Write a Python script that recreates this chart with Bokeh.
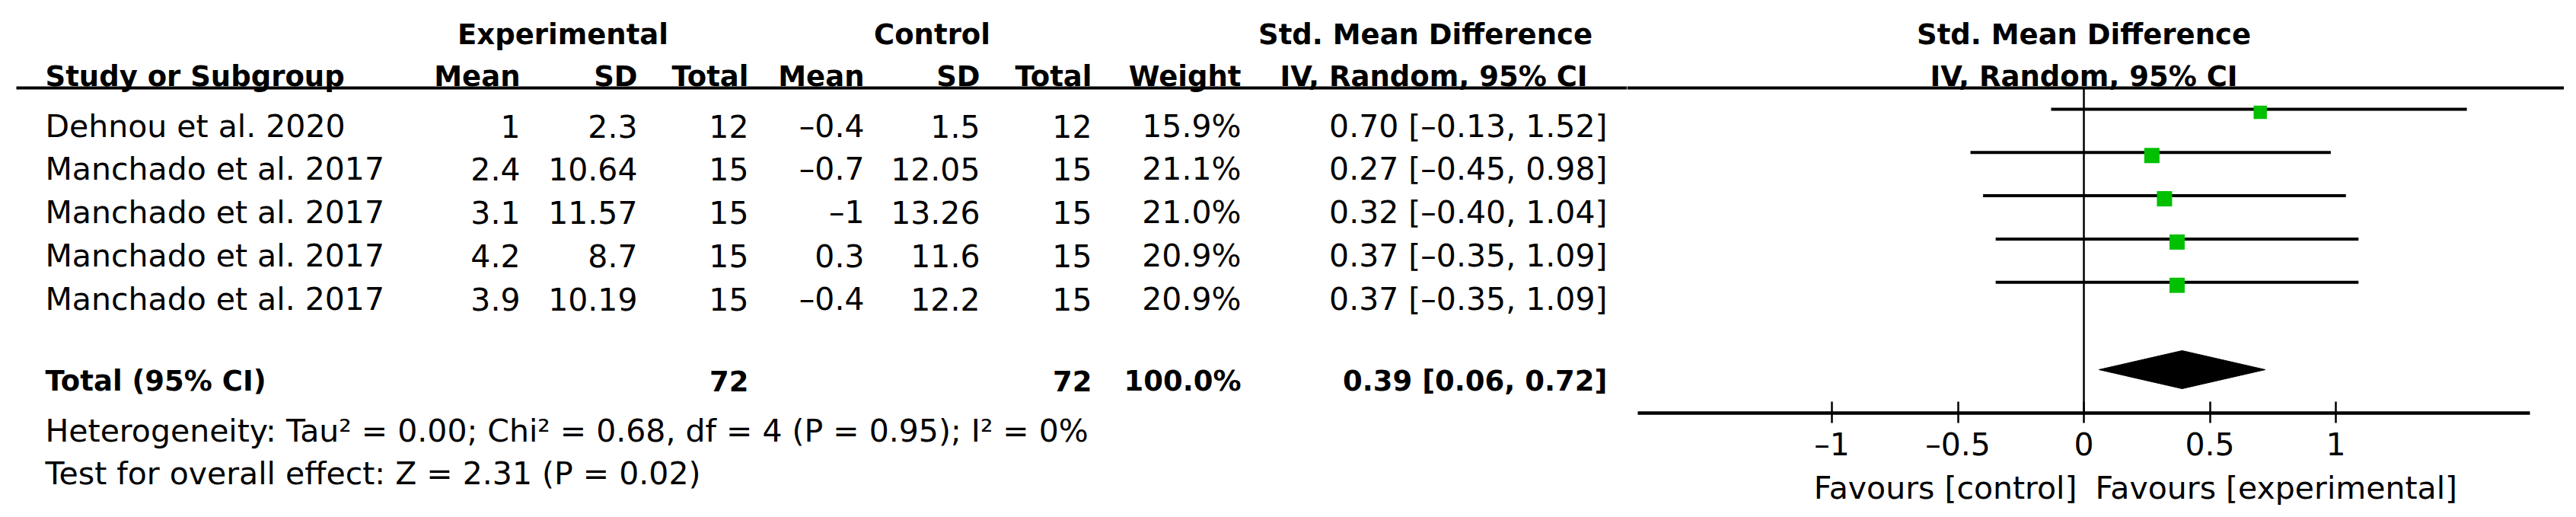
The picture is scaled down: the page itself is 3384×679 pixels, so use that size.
from bokeh.plotting import figure
from bokeh.models import (Range1d, LinearAxis, FixedTicker, CustomJSTickFormatter,
                          ColumnDataSource, Span)
from bokeh.layouts import row
from bokeh.embed import file_html
from bokeh.resources import INLINE
from bokeh.core.properties import value

# ---------------- data ----------------
studies = ["Dehnou et al. 2020", "Manchado et al. 2017", "Manchado et al. 2017",
           "Manchado et al. 2017", "Manchado et al. 2017"]
exp_mean = [1, 2.4, 3.1, 4.2, 3.9]
exp_sd = [2.3, 10.64, 11.57, 8.7, 10.19]
exp_n = [12, 15, 15, 15, 15]
ctl_mean = [-0.4, -0.7, -1, 0.3, -0.4]
ctl_sd = [1.5, 12.05, 13.26, 11.6, 12.2]
ctl_n = [12, 15, 15, 15, 15]
weight = [15.9, 21.1, 21.0, 20.9, 20.9]
smd = [0.70, 0.27, 0.32, 0.37, 0.37]
ci_low = [-0.13, -0.45, -0.40, -0.35, -0.35]
ci_high = [1.52, 0.98, 1.04, 1.09, 1.09]
total_exp_n = 72
total_ctl_n = 72
total_weight = 100.0
total_smd = 0.39
total_low = 0.06
total_high = 0.72
heterogeneity = "Heterogeneity: Tau\u00b2 = 0.00; Chi\u00b2 = 0.68, df = 4 (P = 0.95); I\u00b2 = 0%"
overall_effect = "Test for overall effect: Z = 2.31 (P = 0.02)"
x_ticks = [-1, -0.5, 0, 0.5, 1]
favours_left = "Favours [control]"
favours_right = "Favours [experimental]"

# ---------------- layout / style ----------------
FONT = "DejaVu Sans"
FS = "41px"
FSB = "37px"
OFF = 8
W_ALL = 3368
H_ALL = 663
SPLIT = 2145
ZERO = 2745.0
UNIT = 331.0
AXIS_Y = 550
BASE0 = 173.0
STEP = 56.8
Y_H1, Y_H2, Y_RULE = 53, 108, 123
Y_TOTAL, Y_HET, Y_TEST, Y_FAV = 508, 573, 629, 648
GREEN = "#00c000"


def num(v):
    return f"{v:g}".replace("-", "\u2013")


def ci_text(m, lo, hi):
    return f"{m:.2f} [{lo:.2f}, {hi:.2f}]".replace("-", "\u2013")


def clean(fig):
    fig.outline_line_color = None
    fig.background_fill_color = "white"
    fig.border_fill_color = "white"
    fig.grid.visible = False


def put(fig, xs, ys, texts, align="left", bold=False, x_offset=0):
    src = ColumnDataSource(dict(x=list(xs), y=list(ys), t=list(texts)))
    fig.text(x="x", y="y", text="t", source=src, text_align=align,
             text_baseline="alphabetic", text_font=value(FONT), text_line_height=1.0,
             text_font_size=FSB if bold else FS, x_offset=x_offset,
             text_font_style="bold" if bold else "normal", text_color="black")


rows_y = [BASE0 + STEP * i for i in range(len(studies))]

# ---------------- left: table ----------------
left = figure(width=SPLIT - OFF, height=H_ALL, x_range=Range1d(OFF, SPLIT),
              y_range=Range1d(OFF + H_ALL, OFF), output_backend="svg",
              toolbar_location=None, x_axis_location=None, y_axis_location=None,
              min_border_left=0, min_border_right=0, min_border_top=0, min_border_bottom=0)
clean(left)

COL_EM, COL_ESD, COL_EN = 691, 845, 991
COL_CM, COL_CSD, COL_CN = 1143, 1295, 1442
COL_W, COL_CI = 1638, 2119
COL_NAME = 67

put(left, [747, 1232, 1880], [Y_H1] * 3,
    ["Experimental", "Control", "Std. Mean Difference"], align="center", bold=True)
put(left, [COL_NAME], [Y_H2], ["Study or Subgroup"], bold=True)
put(left, [COL_EM, COL_ESD, COL_EN, COL_CM, COL_CSD, COL_CN, COL_W], [Y_H2] * 7,
    ["Mean", "SD", "Total", "Mean", "SD", "Total", "Weight"], align="right", bold=True)
put(left, [1891], [Y_H2], ["IV, Random, 95% CI"], align="center", bold=True)

left.segment(x0=[29], y0=[Y_RULE], x1=[SPLIT], y1=[Y_RULE], line_color="black", line_width=4)

put(left, [COL_NAME] * len(studies), rows_y, studies)
put(left, [COL_EM] * 5, rows_y, [num(v) for v in exp_mean], align="right")
put(left, [COL_ESD] * 5, rows_y, [num(v) for v in exp_sd], align="right")
put(left, [COL_EN] * 5, rows_y, [str(v) for v in exp_n], align="right")
put(left, [COL_CM] * 5, rows_y, [num(v) for v in ctl_mean], align="right")
put(left, [COL_CSD] * 5, rows_y, [num(v) for v in ctl_sd], align="right")
put(left, [COL_CN] * 5, rows_y, [str(v) for v in ctl_n], align="right")
put(left, [COL_W] * 5, rows_y, [f"{w:.1f}%" for w in weight], align="right")
put(left, [COL_CI] * 5, rows_y,
    [ci_text(m, lo, hi) for m, lo, hi in zip(smd, ci_low, ci_high)], align="right")

put(left, [COL_NAME], [Y_TOTAL], ["Total (95% CI)"], bold=True)
put(left, [COL_EN, COL_CN, COL_W, COL_CI], [Y_TOTAL] * 4,
    [str(total_exp_n), str(total_ctl_n), f"{total_weight:.1f}%",
     ci_text(total_smd, total_low, total_high)], align="right", bold=True)
put(left, [COL_NAME, COL_NAME], [Y_HET, Y_TEST], [heterogeneity, overall_effect])

# ---------------- right: forest plot ----------------
xr = Range1d((SPLIT - ZERO) / UNIT, (OFF + W_ALL - ZERO) / UNIT)
forest = figure(width=OFF + W_ALL - SPLIT, height=H_ALL,
                x_range=xr, y_range=Range1d(OFF + H_ALL, OFF), output_backend="svg",
                toolbar_location=None, x_axis_location=None, y_axis_location=None,
                min_border_left=0, min_border_right=0, min_border_top=0,
                min_border_bottom=0)
clean(forest)

axis = LinearAxis(ticker=FixedTicker(ticks=x_ticks), bounds=(-1.77, 1.77),
                  fixed_location=AXIS_Y,
                  formatter=CustomJSTickFormatter(code="return String(tick).replace('-', '\\u2013')"))
axis.axis_line_width = 4.5
axis.axis_line_color = "black"
axis.major_tick_line_width = 2.5
axis.major_tick_line_color = "black"
axis.major_tick_in = 15
axis.major_tick_out = 13
axis.minor_tick_in = 0
axis.minor_tick_out = 0
axis.minor_tick_line_color = None
axis.major_label_text_font = FONT
axis.major_label_text_font_size = FS
axis.major_label_text_color = "black"
axis.major_label_standoff = 4
forest.add_layout(axis, "below")

put(forest, [0, 0], [Y_H1, Y_H2], ["Std. Mean Difference", "IV, Random, 95% CI"],
    align="center", bold=True)
forest.add_layout(Span(location=Y_RULE, dimension="width", line_color="black", line_width=4))
forest.segment(x0=[0], y0=[Y_RULE], x1=[0], y1=[AXIS_Y], line_color="black", line_width=2.5)

ci_y = [y - 22 for y in rows_y]
sq_y = [y - 18 for y in rows_y]
side = [20.0 * (w / 21.0) ** 0.5 for w in weight]
forest.segment(x0=ci_low, y0=ci_y, x1=ci_high, y1=ci_y, line_color="black", line_width=4)
forest.rect(x=smd, y=sq_y, width=side, height=side, width_units="screen",
            height_units="screen", fill_color=GREEN, line_color=None)

dc = Y_TOTAL - 15
forest.patch(x=[total_low, total_smd, total_high, total_smd],
             y=[dc, dc - 25, dc, dc + 25], fill_color="black", line_color="black", line_width=1)

# favours labels below the axis
put(forest, [0], [Y_FAV], [favours_left], align="right", x_offset=-9)
put(forest, [0], [Y_FAV], [favours_right], align="left", x_offset=15)

layout = row(left, forest, spacing=0)
open("out.html", "w").write(file_html(layout, INLINE))
